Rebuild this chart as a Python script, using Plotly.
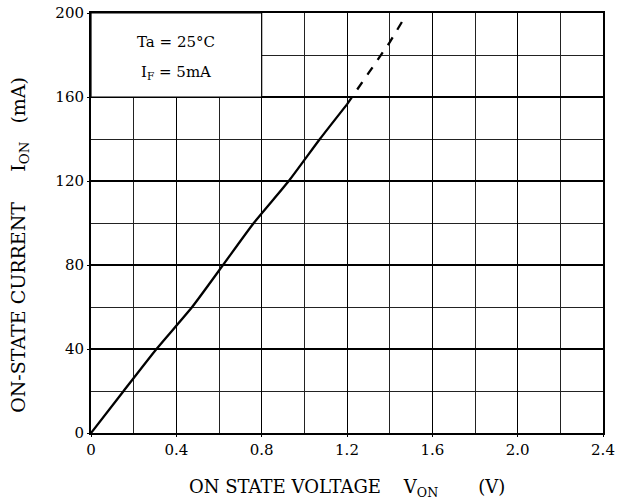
import plotly.graph_objects as go

# Data (crossings with grid lines)
v_solid = [0.0, 0.153, 0.307, 0.474, 0.619, 0.763, 0.927, 1.073, 1.20]
i_solid = [0, 20, 40, 60, 80, 100, 120, 140, 156.5]
v_dash = [1.20, 1.40, 1.465]
i_dash = [156.5, 186, 197]

x_ticks = [0, 0.4, 0.8, 1.2, 1.6, 2.0, 2.4]
x_labels = ["0", "0.4", "0.8", "1.2", "1.6", "2.0", "2.4"]
y_ticks = [0, 40, 80, 120, 160, 200]
y_labels = ["0", "40", "80", "120", "160", "200"]

FONT = "DejaVu Serif"
NB = "\u00a0"

fig = go.Figure()
fig.add_trace(go.Scatter(x=v_solid, y=i_solid, mode="lines",
                         line=dict(color="black", width=2.3, shape="spline", smoothing=0.6),
                         showlegend=False))
fig.add_trace(go.Scatter(x=v_dash, y=i_dash, mode="lines",
                         line=dict(color="black", width=2.3, dash="dash"), showlegend=False))

# Condition box (white box covering grid in upper-left)
fig.add_shape(type="rect", xref="x", yref="y", x0=0, x1=0.8, y0=160, y1=200,
              fillcolor="white", line=dict(color="black", width=1.2), layer="above")
fig.add_annotation(xref="x", yref="y", x=0.4, y=186.3, text="Ta" + NB + "=" + NB + "25°C",
                   showarrow=False, font=dict(family=FONT, size=15, color="black"))
fig.add_annotation(xref="x", yref="y", x=0.4, y=171.5, text="I<sub>F</sub>" + NB + "=" + NB + "5mA",
                   showarrow=False, font=dict(family=FONT, size=15, color="black"))

# Axis titles
fig.add_annotation(xref="paper", yref="paper", x=0.5, y=-0.165,
                   text="ON" + NB + "STATE" + NB + "VOLTAGE" + NB * 4 + "V<sub>ON</sub>" + NB * 7 + "(V)",
                   showarrow=False, font=dict(family=FONT, size=18, color="black"))
fig.add_annotation(xref="paper", yref="paper", x=-0.167, y=0.448, textangle=-90,
                   text="ON-STATE" + NB + "CURRENT" + NB * 5 + "I<sub>ON</sub>" + NB * 3 + "(mA)",
                   showarrow=False, font=dict(family=FONT, size=19, color="black"))

fig.update_layout(
    width=618, height=502,
    margin=dict(l=91, r=15, t=13, b=69),
    paper_bgcolor="white", plot_bgcolor="white",
    font=dict(family=FONT, size=15, color="black"),
    xaxis=dict(range=[0, 2.4], tickvals=x_ticks, ticktext=x_labels, automargin=False,
               ticklabeloverflow="allow",
               showgrid=True, gridcolor="black", gridwidth=1.2,
               minor=dict(dtick=0.2, showgrid=True, gridcolor="#222", gridwidth=1),
               showline=True, linecolor="black", linewidth=2, mirror=True,
               ticks="outside", ticklen=2, tickcolor="black", zeroline=False,
               tickfont=dict(family=FONT, size=15)),
    yaxis=dict(range=[0, 200], tickvals=y_ticks, ticktext=y_labels, automargin=False,
               ticklabeloverflow="allow",
               showgrid=True, gridcolor="black", gridwidth=1.5,
               minor=dict(dtick=20, showgrid=True, gridcolor="#222", gridwidth=1),
               showline=True, linecolor="black", linewidth=2, mirror=True,
               ticks="outside", ticklen=2, tickcolor="black", zeroline=False,
               tickfont=dict(family=FONT, size=15)),
)

fig.write_html("out.html", config={"displayModeBar": False},
               post_script="document.body.style.margin='0';")
